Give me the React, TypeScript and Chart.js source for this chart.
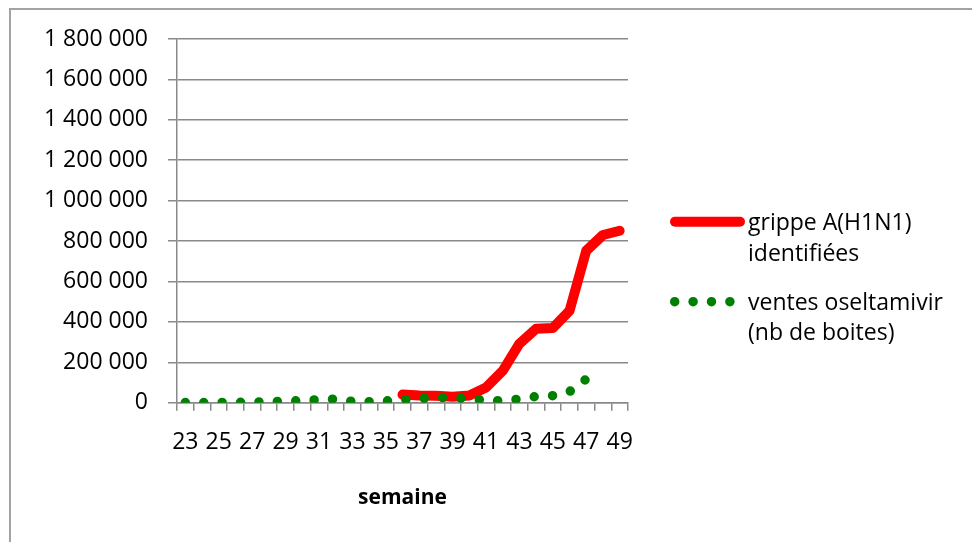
import React, { useEffect, useRef } from 'react';
import { Chart, registerables } from 'chart.js';

Chart.register(...registerables);

const weeks = ['23', '24', '25', '26', '27', '28', '29', '30', '31', '32', '33', '34', '35', '36', '37', '38', '39', '40', '41', '42', '43', '44', '45', '46', '47', '48', '49'];

const grippe = [null, null, null, null, null, null, null, null, null, null, null, null, null,
  40000, 36000, 34000, 30000, 36000, 75000, 158000, 292000, 366000, 370000, 455000, 752000, 830000, 851000];

const ventes = [1000, 1000, 1500, 2000, 3000, 4500, 7500, 11000, 15000, 18000, 6500, 5000, 9000,
  14000, 20000, 26000, 25000, 19000, 12000, 9000, 18000, 31000, 35000, 55000, 117000, null, null];

const yTickLabels = ['0', '200 000', '400 000', '600 000', '800 000', '1 000 000', '1 200 000', '1 400 000', '1 600 000', '1 800 000'];

const legendGrippe = ['grippe A(H1N1)', 'identifiées'];
const legendVentes = ['ventes oseltamivir', '(nb de boites)'];
const xTitle = 'semaine';

const FONT = "'Open Sans', sans-serif";
const GRID = '#898989';
const RED = '#ff0000';
const GREEN = '#008000';
const FS = 23;

export default function App() {
  const ref = useRef<HTMLCanvasElement>(null);

  useEffect(() => {
    const legendPlugin = {
      id: 'customLegend',
      afterDraw(chart: any) {
        const ctx = chart.ctx as CanvasRenderingContext2D;
        const x0 = chart.chartArea.right + 42;
        ctx.save();
        ctx.strokeStyle = RED;
        ctx.lineWidth = 10;
        ctx.lineCap = 'round';
        ctx.beginPath();
        ctx.moveTo(x0 + 5, 221.7);
        ctx.lineTo(x0 + 70, 221.7);
        ctx.stroke();
        ctx.strokeStyle = GREEN;
        ctx.lineWidth = 9.5;
        ctx.setLineDash([0, 18.4]);
        ctx.beginPath();
        ctx.moveTo(x0 + 4.7, 301.7);
        ctx.lineTo(x0 + 62, 301.7);
        ctx.stroke();
        ctx.setLineDash([]);
        ctx.fillStyle = '#000';
        ctx.font = `${FS}px ${FONT}`;
        ctx.textAlign = 'left';
        ctx.textBaseline = 'alphabetic';
        const tx = x0 + 78;
        ctx.fillText(legendGrippe[0], tx, 230);
        ctx.fillText(legendGrippe[1], tx, 261);
        ctx.fillText(legendVentes[0], tx, 310);
        ctx.fillText(legendVentes[1], tx, 340);
        ctx.restore();
      },
    };

    const chart = new Chart(ref.current as HTMLCanvasElement, {
      type: 'line',
      data: {
        labels: weeks,
        datasets: [
          {
            label: legendGrippe.join(' '),
            data: grippe,
            borderColor: RED,
            backgroundColor: RED,
            borderWidth: 10,
            borderCapStyle: 'round',
            borderJoinStyle: 'round',
            pointRadius: 0,
            pointHoverRadius: 0,
            fill: false,
            tension: 0,
            order: 2,
          },
          {
            label: legendVentes.join(' '),
            data: ventes,
            borderColor: GREEN,
            backgroundColor: GREEN,
            borderWidth: 9.5,
            borderDash: [0, 18.4],
            borderCapStyle: 'round',
            borderJoinStyle: 'round',
            pointRadius: 0,
            pointHoverRadius: 0,
            fill: false,
            tension: 0,
            order: 1,
          },
        ],
      } as any,
      options: {
        animation: false,
        responsive: false,
        events: [],
        layout: { padding: { top: 39, right: 344, left: 0, bottom: 0 } },
        plugins: {
          legend: { display: false },
          tooltip: { enabled: false },
        },
        scales: {
          x: {
            offset: true,
            grid: { offset: true, drawOnChartArea: false, drawTicks: true, tickLength: 8, color: GRID, lineWidth: 1.5 },
            border: { color: GRID, width: 1.5 },
            ticks: {
              autoSkip: false,
              maxRotation: 0,
              minRotation: 0,
              padding: 18,
              color: '#000',
              font: { size: FS, family: FONT },
              callback: (_v: any, i: number) => (i % 2 === 0 ? weeks[i] : ''),
            },
            title: {
              display: true,
              text: xTitle,
              color: '#000',
              font: { size: 21, weight: 'bold', family: FONT },
              padding: { top: 0, bottom: 31 },
            },
            afterFit: (s: any) => {
              s.height = 139.3;
            },
          },
          y: {
            min: 0,
            max: 1800000,
            grid: { color: GRID, tickLength: 9, lineWidth: 1.5 },
            border: { color: GRID, width: 1.5 },
            ticks: {
              stepSize: 200000,
              padding: 20,
              color: '#000',
              font: { size: FS, family: FONT },
              callback: (v: any) => yTickLabels[Math.round(Number(v) / 200000)],
            },
            afterFit: (s: any) => {
              s.width = 177;
            },
          },
        },
      } as any,
      plugins: [legendPlugin],
    });
    return () => chart.destroy();
  }, []);

  return (
    <div style={{ position: 'absolute', left: 0, top: 0, width: 972, height: 542, overflow: 'hidden', background: '#fff' }}>
      <div style={{ position: 'absolute', left: 9, top: 8, width: 1000, height: 600, border: '2px solid #a3a3a3', boxSizing: 'border-box' }} />
      <canvas ref={ref} width={972} height={542} style={{ position: 'absolute', left: 0, top: 0, width: 972, height: 542 }} />
    </div>
  );
}
